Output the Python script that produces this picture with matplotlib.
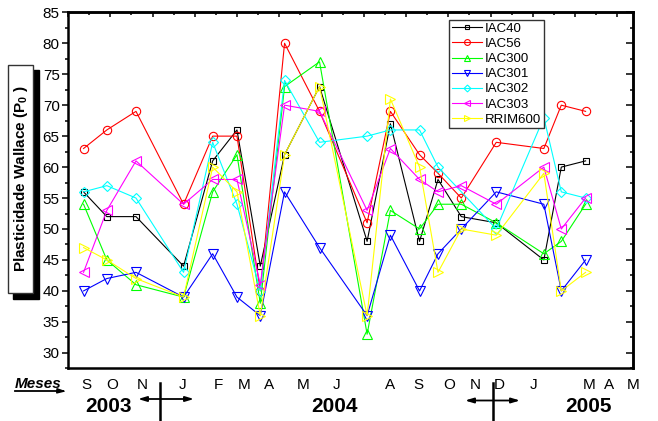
import numpy as np
import matplotlib
matplotlib.use("Agg")
import matplotlib.pyplot as plt
from matplotlib.patches import Rectangle
from matplotlib.lines import Line2D
from matplotlib.ticker import MultipleLocator

plt.rcParams['font.family'] = ['Liberation Sans', 'DejaVu Sans']
plt.rcParams['mathtext.fontset'] = 'custom'
plt.rcParams['mathtext.rm'] = 'Liberation Sans:bold'
plt.rcParams['mathtext.bf'] = 'Liberation Sans:bold'

# ---- data ----
sample_pos = [0.368, 0.919, 1.609, 2.735, 3.424, 3.999, 4.551, 5.125, 5.953,
              7.079, 7.630, 8.320, 8.757, 9.308, 10.136, 11.262, 11.675, 12.250]
nan = np.nan
IAC40 = [56, 52, 52, 44, 61, 66, 44, 62, 73, 48, 67, 48, 58, 52, 51, 45, 60, 61]
IAC56 = [63, 66, 69, 54, 65, 65, 40, 80, 69, 51, 69, 62, 59, 55, 64, 63, 70, 69]
IAC300 = [54, 45, 41, 39, 56, 62, 38, 73, 77, 33, 53, 50, 54, 54, 51, 46, 48, 54]
IAC301 = [40, 42, 43, 39, 46, 39, 36, 56, 47, 36, 49, 40, 46, 50, 56, 54, 40, 45]
IAC302 = [56, 57, 55, 43, 64, 54, 40, 74, 64, 65, 66, 66, 60, nan, 50, 68, 56, 55]
IAC303 = [43, 53, 61, 54, 58, 58, 41, 70, 69, 53, 63, 58, 56, 57, 54, 60, 50, 55]
RRIM600 = [47, 45, 42, 39, 60, 56, 36, 62, 73, 36, 71, 60, 43, 50, 49, 59, 40, 43]

series_names = ['IAC40', 'IAC56', 'IAC300', 'IAC301', 'IAC302', 'IAC303', 'RRIM600']
series_vals = [IAC40, IAC56, IAC300, IAC301, IAC302, IAC303, RRIM600]

month_labels = ['S', 'O', 'N', 'J', 'F', 'M', 'A', 'M', 'J', 'A', 'S', 'O', 'N', 'D', 'J', 'M', 'A', 'M']
month_pos = [0.437, 1.034, 1.747, 2.713, 3.563, 4.161, 4.759, 5.563, 6.345, 7.632,
             8.299, 9.011, 9.632, 10.207, 11.011, 12.322, 12.805, 13.379]
year_labels = ['2003', '2004', '2005']

# ---- styles ----
colors = ['#000000', '#ff0000', '#00ff00', '#0000ff', '#00ffff', '#ff00ff', '#ffff00']
markers = ['s', 'o', '^', 'v', 'D', '<', '>']
msizes = [5, 6, 6.5, 6.5, 5, 6.5, 6.5]

W, H = 658, 421
fig = plt.figure(figsize=(W / 100, H / 100), dpi=100)
def fx(px): return px / W
def fy(py): return 1 - py / H

ax = fig.add_axes([fx(68), fy(368.3), fx(633.3) - fx(68), fy(12.3) - fy(368.3)])

handles = []
for name, vals, c, m, ms in zip(series_names, series_vals, colors, markers, msizes):
    x = np.array(sample_pos, dtype=float)
    y = np.array(vals, dtype=float)
    ok = ~np.isnan(y)
    h, = ax.plot(x[ok], y[ok], color=c, lw=0.8, marker=m, ms=ms,
                 mfc='none', mec=c, mew=0.8, label=name, clip_on=False)
    handles.append(h)

ax.set_xlim(0, 13)
ax.set_ylim(27.5, 85)
for s in ax.spines.values():
    s.set_linewidth(1.8)

ax.yaxis.set_major_locator(MultipleLocator(5))
ax.yaxis.set_minor_locator(MultipleLocator(2.5))
ax.set_yticks(np.arange(30, 86, 5))
ax.tick_params(axis='y', which='major', direction='out', length=4.5, width=1.1,
               labelsize=11, pad=1.5)
ax.tick_params(axis='y', which='minor', direction='out', length=2.3, width=1.1)

ax.set_xticks(month_pos, month_labels)
ax.xaxis.set_minor_locator(plt.NullLocator())
ax.tick_params(axis='x', which='major', length=0, labelsize=11, pad=7)
for lab in ax.get_xticklabels():
    lab.set_clip_on(False)

# top axis ticks
top = ax.secondary_xaxis('top')
top.set_xticks(np.arange(0, 14, 1))
top.xaxis.set_minor_locator(MultipleLocator(0.5))
top.tick_params(which='major', direction='in', length=3.8, width=1.1, labeltop=False)
top.tick_params(which='minor', direction='in', length=2.2, width=1.1)
top.spines['top'].set_linewidth(1.8)

# right axis ticks
right = ax.secondary_yaxis('right')
right.set_yticks(np.arange(30, 86, 5))
right.yaxis.set_minor_locator(MultipleLocator(2.5))
right.tick_params(which='major', direction='in', length=5, width=1.1, labelright=False)
right.tick_params(which='minor', direction='in', length=2.2, width=1.1)
right.spines['right'].set_linewidth(1.8)

# legend
leg = ax.legend(handles=handles, loc='upper left',
                bbox_to_anchor=(fx(449), fy(20)), bbox_transform=fig.transFigure,
                fontsize=9.5, frameon=True, fancybox=False, framealpha=1,
                edgecolor='#333333', borderpad=0.2, labelspacing=0.22,
                handlelength=2.3, handletextpad=0.2, borderaxespad=0,
                markerscale=0.7)
leg.get_frame().set_linewidth(1.0)

# y label box with shadow
fig.add_artist(Rectangle((fx(13), fy(299)), fx(39) - fx(13), fy(70) - fy(299),
                         transform=fig.transFigure, facecolor='black', edgecolor='black'))
fig.add_artist(Rectangle((fx(8), fy(293)), fx(33) - fx(8), fy(65) - fy(293),
                         transform=fig.transFigure, facecolor='white', edgecolor='#333333', lw=1.0))
fig.text(fx(21), fy(179), r'Plasticidade Wallace (P$_{\mathbf{0}}$ )', rotation=90,
         ha='center', va='center', fontsize=11, fontweight='bold')

# Meses label
fig.text(fx(15), fy(384), 'Meses', ha='left', va='center', fontsize=11,
         fontweight='bold', style='italic')
fig.add_artist(Line2D([fx(15), fx(63)], [fy(391), fy(391)], transform=fig.transFigure,
                      color='black', lw=1.3))
ax.annotate('', xy=(fx(69), fy(391.5)), xytext=(fx(60), fy(391)), xycoords='figure fraction',
            arrowprops=dict(arrowstyle='-|>,head_length=0.5,head_width=0.15',
                            color='black', lw=1.0))

# years
for lab, px in zip(year_labels, [109, 334, 588]):
    fig.text(fx(px), fy(407), lab, ha='center', va='center', fontsize=15, fontweight='bold')

# crosses
for cx, x0, x1, yy in [(160, 138, 194, 399), (493, 465, 520, 400.5)]:
    fig.add_artist(Line2D([fx(cx), fx(cx)], [fy(383), fy(421)], transform=fig.transFigure,
                          color='black', lw=1.8))
    ax.annotate('', xy=(fx(x1), fy(yy)), xytext=(fx(x0), fy(yy)), xycoords='figure fraction',
                arrowprops=dict(arrowstyle='<|-|>,head_length=0.5,head_width=0.15',
                                color='black', lw=1.3, shrinkA=0, shrinkB=0))

fig.savefig('out.png', dpi=100)
